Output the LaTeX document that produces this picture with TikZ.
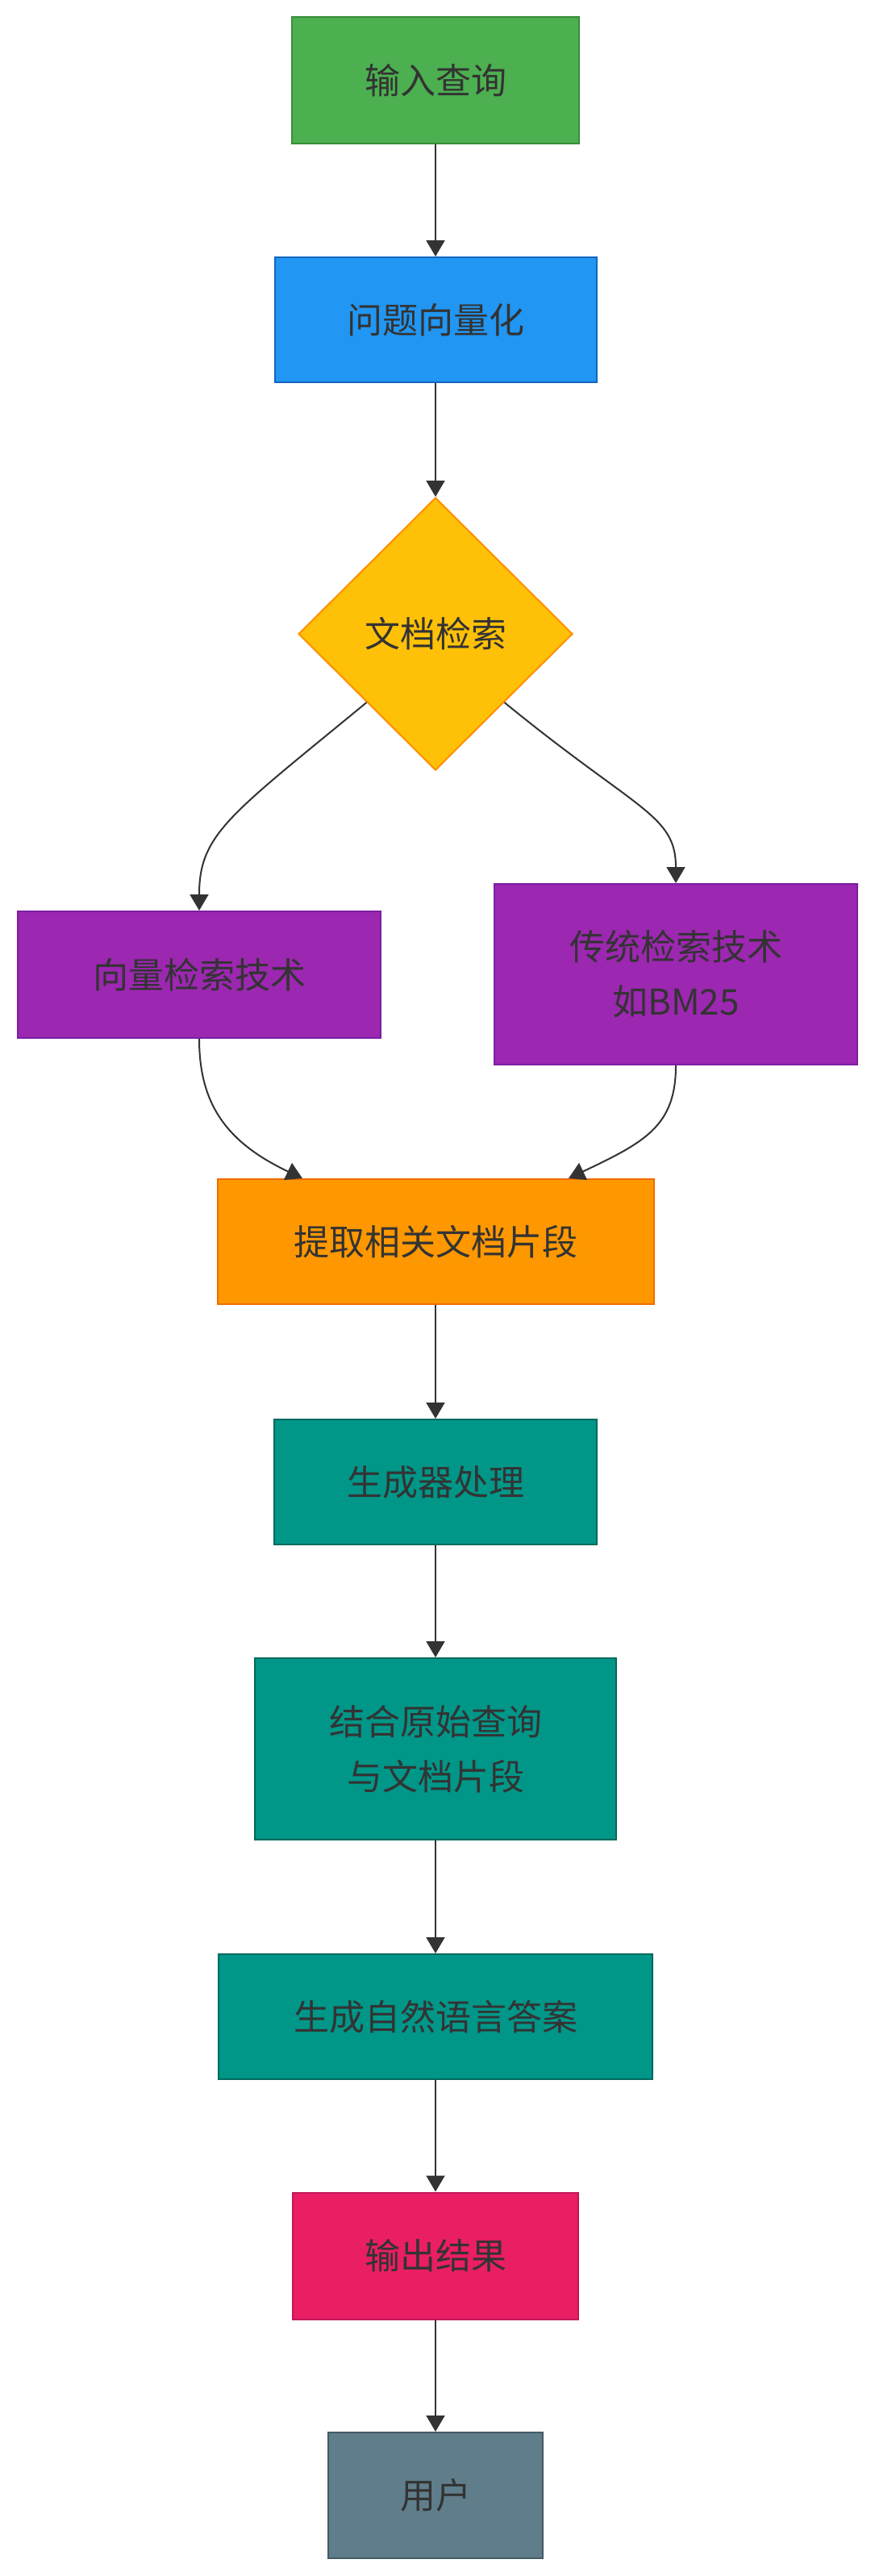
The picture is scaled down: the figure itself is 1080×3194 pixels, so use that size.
\documentclass[tikz,border=0pt]{standalone}
\usepackage{fontspec}
\setmainfont{Noto Sans CJK SC}
\usetikzlibrary{shapes.geometric, arrows.meta, calc}

\definecolor{txtgray}{HTML}{333333}
\definecolor{inputfill}{HTML}{4CAF50}
\definecolor{inputline}{HTML}{388E3C}
\definecolor{vecfill}{HTML}{2196F3}
\definecolor{vecline}{HTML}{1565C0}
\definecolor{docfill}{HTML}{FFC107}
\definecolor{docline}{HTML}{FF8F00}
\definecolor{techfill}{HTML}{9C27B0}
\definecolor{techline}{HTML}{7B1FA2}
\definecolor{extfill}{HTML}{FF9800}
\definecolor{extline}{HTML}{EF6C00}
\definecolor{genfill}{HTML}{009688}
\definecolor{genline}{HTML}{00695C}
\definecolor{outfill}{HTML}{E91E63}
\definecolor{outline}{HTML}{C2185B}
\definecolor{userfill}{HTML}{607D8B}
\definecolor{userline}{HTML}{455A64}

\tikzset{
  box/.style={rectangle, line width=1pt, inner sep=0pt, align=center,
    text=txtgray, font=\fontsize{22pt}{34pt}\selectfont},
  flow/.style={draw=txtgray, line width=1pt,
    -{Triangle[length=10pt,width=11.5pt]}},
}

\begin{document}
\begin{tikzpicture}[x=0.5pt, y=-0.5pt]

    % page
    \fill[white] (0,0) rectangle (1080,3194);
    \useasboundingbox (0,0) rectangle (1080,3194);

    % main column
    \node[box, fill=inputfill, draw=inputline, minimum width=178pt, minimum height=78.5pt]
        (input) at (540,99.5) {输入查询};
    \node[box, fill=vecfill, draw=vecline, minimum width=199.5pt, minimum height=77.5pt]
        (embed) at (540,396.5) {问题向量化};
    \node[box, diamond, fill=docfill, draw=docline, minimum width=170pt, minimum height=169pt]
        (retrieve) at (540,786) {文档检索};

    % two retrieval methods
    \node[box, fill=techfill, draw=techline, minimum width=225pt, minimum height=78.5pt]
        (vecsearch) at (247,1208.5) {向量检索技术};
    \node[box, fill=techfill, draw=techline, minimum width=225pt, minimum height=112pt]
        (bmsearch) at (838,1208) {传统检索技术\\如BM25};

    \node[box, fill=extfill, draw=extline, minimum width=270.5pt, minimum height=77.5pt]
        (extract) at (540,1539.5) {提取相关文档片段};

    % generator part
    \node[box, fill=genfill, draw=genline, minimum width=200pt, minimum height=77.5pt]
        (generator) at (540,1837.5) {生成器处理};
    \node[box, fill=genfill, draw=genline, minimum width=224pt, minimum height=112.5pt]
        (combine) at (540,2168.5) {结合原始查询\\与文档片段};
    \node[box, fill=genfill, draw=genline, minimum width=269pt, minimum height=77.5pt]
        (answer) at (540,2500.5) {生成自然语言答案};
    \node[box, fill=outfill, draw=outline, minimum width=177pt, minimum height=78.5pt]
        (result) at (540,2797) {输出结果};
    \node[box, fill=userfill, draw=userline, minimum width=133pt, minimum height=78pt]
        (user) at (540,3094) {用户};

    % straight links
    \draw[flow] (input) -- (embed);
    \draw[flow] (embed) -- (retrieve);
    \draw[flow] (extract) -- (generator);
    \draw[flow] (generator) -- (combine);
    \draw[flow] (combine) -- (answer);
    \draw[flow] (answer) -- (result);
    \draw[flow] (result) -- (user);

    % branching links
    \draw[flow] (retrieve.south west) .. controls +(-170,140) and +(0,-95) .. (vecsearch.north);
    \draw[flow] (retrieve.south east) .. controls +(165,135) and +(0,-85) .. (bmsearch.north);
    \draw[flow] (vecsearch.south) .. controls +(0,80) and +(-95,-45) .. ($(extract.north)+(-165,0)$);
    \draw[flow] (bmsearch.south) .. controls +(0,75) and +(95,-45) .. ($(extract.north)+(165,0)$);

\end{tikzpicture}
\end{document}
